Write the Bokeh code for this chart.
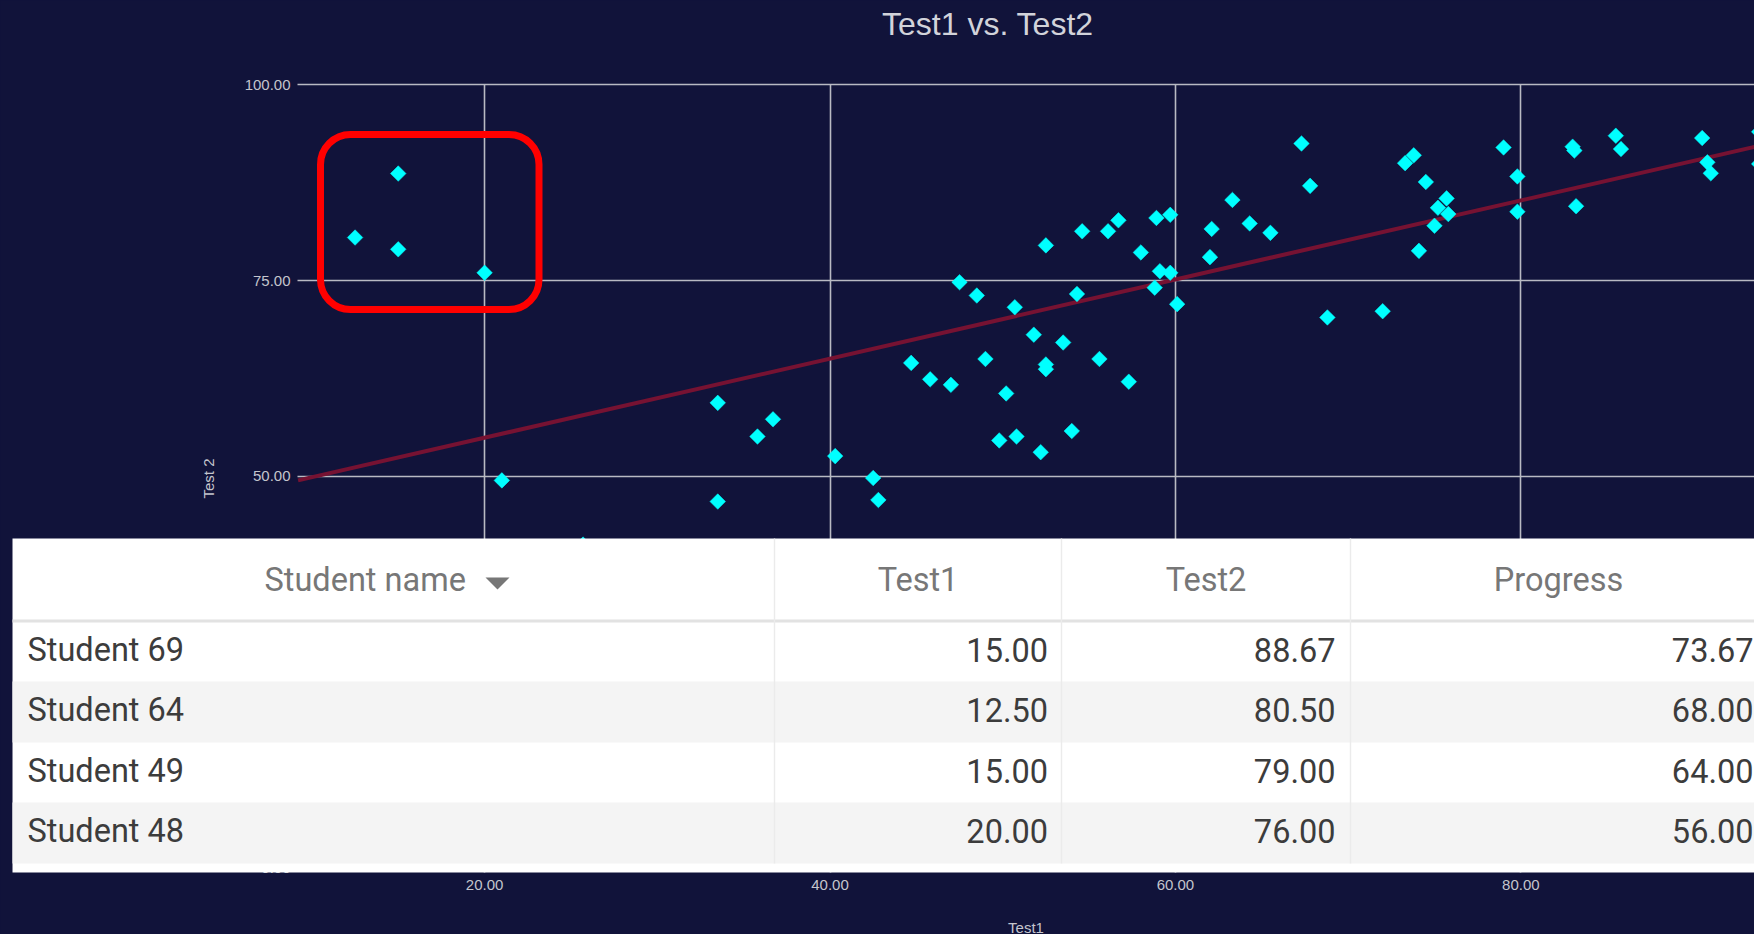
import numpy as np
from bokeh.plotting import figure
from bokeh.models import (Range1d, FixedTicker, NumeralTickFormatter, BoxAnnotation,
                          Label, PolyAnnotation)
from bokeh.embed import file_html
from bokeh.resources import INLINE

# ---------------- data ----------------
test1_scores = [15.0, 12.5, 15.0, 20.0, 33.5, 21.0, 33.5, 25.7, 35.8, 36.7,
                40.3, 42.5, 42.8, 44.7, 45.8, 47.0, 47.5, 48.5, 49.0, 49.8,
                50.2, 50.7, 50.8, 51.8, 52.2, 52.5, 52.5, 52.5, 53.5, 54.0,
                54.3, 54.6, 55.6, 56.1, 56.7, 57.3, 58.0, 58.9, 59.7, 59.1,
                59.7, 58.8, 60.1, 62.1, 62.0, 63.3, 64.3, 65.5, 67.3, 67.8,
                68.8, 72.0, 73.3, 73.8, 74.5, 75.7, 75.2, 75.8, 75.0, 74.1,
                79.0, 79.8, 79.8, 83.0, 83.1, 83.2, 85.5, 85.8, 90.5, 90.8,
                91.0, 93.8, 93.8]
test2_scores = [88.67, 80.5, 79.0, 76.0, 59.4, 49.5, 46.8, 41.3, 55.1, 57.3,
                52.6, 49.8, 47.0, 64.5, 62.4, 61.7, 74.8, 73.1, 65.0, 54.6,
                60.6, 71.6, 55.1, 68.1, 53.1, 79.5, 64.3, 63.7, 67.1, 55.8,
                73.3, 81.3, 65.0, 81.3, 82.7, 62.1, 78.6, 83.0, 83.4, 76.2,
                76.0, 74.1, 72.0, 81.6, 78.0, 85.3, 82.3, 81.1, 92.5, 87.1,
                70.3, 71.1, 90.0, 91.0, 87.6, 85.5, 84.3, 83.5, 82.0, 78.8,
                92.0, 88.3, 83.8, 92.1, 91.6, 84.5, 93.5, 91.8, 93.2, 90.1,
                88.7, 94.0, 89.9]
trend_test1 = [9.2, 93.6]
trend_test2 = [49.5, 92.1]
x_ticks = [20, 40, 60, 80, 100]
y_ticks = [0, 25, 50, 75, 100]

table_columns = ["Student name", "Test1", "Test2", "Progress"]
table_names = ["Student 69", "Student 64", "Student 49", "Student 48"]
table_test1 = [15.00, 12.50, 15.00, 20.00]
table_test2 = [88.67, 80.50, 79.00, 76.00]
table_progress = [73.67, 68.00, 64.00, 56.00]

# ---------------- layout / style ----------------
BG = "#11133a"
FIG_W, FIG_H = 1754, 934
FRAME_W, FRAME_H = FIG_W, FIG_H
X0, X1 = -8.03, 93.53          # whole canvas width
Y0, Y1 = -8.466, 110.76        # whole canvas height
PLOT_X_START = 9.17            # left edge of the original plotting area
PLOT_X_END = 94.64             # right edge of the original plotting area (off-screen)
PLOT_Y_START = -0.55           # bottom edge of the original plotting area
PLOT_Y_END = 100


def sx(px):
    """canvas pixel x -> data x"""
    return X0 + px * (X1 - X0) / FRAME_W


def sy(py):
    """canvas pixel y -> data y"""
    return Y1 - py * (Y1 - Y0) / FRAME_H


p = figure(width=FIG_W, height=FIG_H,
           x_range=Range1d(X0, X1), y_range=Range1d(Y0, Y1),
           output_backend="svg", toolbar_location=None, tools="",
           min_border_left=0, min_border_right=0,
           min_border_top=0, min_border_bottom=0,
           background_fill_color=BG, border_fill_color=BG,
           outline_line_color=None)
p.title.visible = False

TICK_COLOR = "#c4c5cd"
for ax in (p.xaxis[0], p.yaxis[0]):
    ax.axis_line_color = None
    ax.major_tick_line_color = None
    ax.minor_tick_line_color = None
    ax.major_tick_out = 0
    ax.major_tick_in = 0
    ax.minor_tick_out = 0
    ax.minor_tick_in = 0
    ax.major_label_text_font = "Liberation Sans"
    ax.major_label_text_font_size = "15px"
    ax.major_label_text_color = TICK_COLOR
    ax.axis_label_text_font = "Liberation Sans"
    ax.axis_label_text_font_size = "15px"
    ax.axis_label_text_font_style = "normal"
    ax.axis_label_text_color = TICK_COLOR
    ax.formatter = NumeralTickFormatter(format="0.00")

p.xaxis.ticker = FixedTicker(ticks=x_ticks)
p.yaxis.ticker = FixedTicker(ticks=y_ticks)
p.xaxis.axis_label = "Test1"
p.yaxis.axis_label = "Test 2"
p.xaxis.fixed_location = PLOT_Y_START
p.xaxis.bounds = (PLOT_X_START, PLOT_X_END)
p.xaxis.major_label_standoff = 8
p.xaxis.axis_label_standoff = 25
p.yaxis.fixed_location = PLOT_X_START
p.yaxis.bounds = (PLOT_Y_START, PLOT_Y_END)
p.yaxis.major_label_standoff = 7
p.yaxis.axis_label_standoff = 25

for g in (p.xgrid[0], p.ygrid[0]):
    g.grid_line_color = "#b9bac3"
    g.grid_line_width = 1.6
p.xgrid.ticker = FixedTicker(ticks=x_ticks)
p.ygrid.ticker = FixedTicker(ticks=y_ticks)
try:
    p.xgrid.cross_bounds = (PLOT_Y_START, PLOT_Y_END)
    p.ygrid.cross_bounds = (PLOT_X_START, X1)
    need_cover = False
except Exception:
    need_cover = True
if need_cover:
    p.add_layout(BoxAnnotation(left=X0, right=X1, bottom=PLOT_Y_END + 0.15, top=Y1,
                               fill_color=BG, fill_alpha=1, line_color=None, level="underlay"))
    p.add_layout(BoxAnnotation(left=X0, right=PLOT_X_START - 0.06, bottom=Y0, top=Y1,
                               fill_color=BG, fill_alpha=1, line_color=None, level="underlay"))
    p.add_layout(BoxAnnotation(left=X0, right=X1, bottom=Y0, top=PLOT_Y_START,
                               fill_color=BG, fill_alpha=1, line_color=None, level="underlay"))

# title (drawn as a label inside the canvas-wide frame)
p.add_layout(Label(x=sx(881.5), y=sy(23.7), text="Test1 vs. Test2",
                   text_font="Liberation Sans", text_font_size="32px",
                   text_color="#d2d3da", text_align="left", text_baseline="middle"))

# regression line and points
p.line(trend_test1, trend_test2, line_color="#761232", line_width=4)
p.scatter(x=test1_scores, y=test2_scores, marker="square", size=11,
          angle=np.pi / 4, fill_color="#00ffff", line_color="#00ffff",
          line_width=0.5)

# red highlight box
p.add_layout(BoxAnnotation(left=sx(320), right=sx(538.5), top=sy(134), bottom=sy(309),
                           fill_alpha=0, line_color="#ff0000", line_alpha=1, line_width=7,
                           border_radius=30, level="overlay"))

# ---------------- overlaid table ----------------
T_LEFT, T_RIGHT, T_TOP, T_BOTTOM = 12, 1770, 538, 872
COL_EDGES = [12, 774, 1061, 1350, 1766]
HEADER_BOTTOM = 620
ROW_EDGES = [622, 681, 742, 802, 863]
HEADER_COLOR = "#777777"
BODY_COLOR = "#3c3c3c"
FONT = "Roboto"
FSIZE = "32.5px"


def box(l, r, t, b, color):
    p.add_layout(BoxAnnotation(left=sx(l), right=sx(r), top=sy(t), bottom=sy(b),
                               fill_color=color, fill_alpha=1, line_color=None,
                               level="overlay"))


box(T_LEFT, T_RIGHT, T_TOP, T_BOTTOM, "#ffffff")
for i in range(len(table_names)):
    if i % 2 == 1:
        box(T_LEFT, T_RIGHT, ROW_EDGES[i], ROW_EDGES[i + 1], "#f4f4f4")
box(T_LEFT, T_RIGHT, HEADER_BOTTOM - 1, HEADER_BOTTOM + 2, "#e2e2e2")
for cx in COL_EDGES[1:-1]:
    box(cx - 0.7, cx + 0.7, T_TOP, ROW_EDGES[-1], "#ebebeb")

# header texts
head_y = sy(579)
p.add_layout(Label(x=sx(264), y=head_y, text=table_columns[0], text_font=FONT,
                   text_font_size=FSIZE, text_color=HEADER_COLOR,
                   text_align="left", text_baseline="middle", level="overlay"))
for j in range(1, 4):
    cxm = (COL_EDGES[j] + COL_EDGES[j + 1]) / 2
    p.add_layout(Label(x=sx(cxm), y=head_y, text=table_columns[j], text_font=FONT,
                       text_font_size=FSIZE, text_color=HEADER_COLOR,
                       text_align="center", text_baseline="middle", level="overlay"))
# sort arrow
p.add_layout(PolyAnnotation(xs=[sx(485), sx(509), sx(497)], ys=[sy(577), sy(577), sy(589)],
                            fill_color=HEADER_COLOR, fill_alpha=1, line_color=None,
                            level="overlay"))

# body rows
num_right = [1047.5, 1335, 1753]
for i, name in enumerate(table_names):
    yc = sy((ROW_EDGES[i] + ROW_EDGES[i + 1]) / 2 - 2)
    p.add_layout(Label(x=sx(27), y=yc, text=name, text_font=FONT, text_font_size=FSIZE,
                       text_color=BODY_COLOR, text_align="left", text_baseline="middle",
                       level="overlay"))
    for val, xr in zip((table_test1[i], table_test2[i], table_progress[i]), num_right):
        p.add_layout(Label(x=sx(xr), y=yc, text=f"{val:.2f}", text_font=FONT,
                           text_font_size=FSIZE, text_color=BODY_COLOR,
                           text_align="right", text_baseline="middle", level="overlay"))

html = file_html(p, INLINE, title="Test1 vs. Test2")
html = html.replace("<head>", "<head><style>html,body{background:%s;}</style>" % BG, 1)
open("out.html", "w").write(html)
